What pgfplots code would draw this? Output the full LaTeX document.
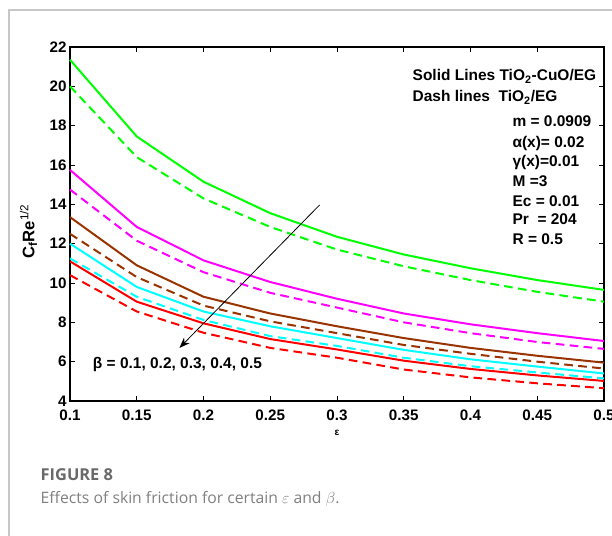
\documentclass[border=0pt]{standalone}
\usepackage{pgfplots}
\pgfplotsset{compat=1.18}
\usetikzlibrary{arrows.meta}
\usepackage{fontspec}
\setmainfont{Liberation Sans}
\newfontfamily\capfont{Open Sans}

\definecolor{cgreen}{RGB}{0,255,0}
\definecolor{cmag}{RGB}{255,0,255}
\definecolor{cbrown}{RGB}{153,51,0}
\definecolor{ccyan}{RGB}{0,255,255}
\definecolor{cred}{RGB}{255,0,0}
\definecolor{capgray}{RGB}{105,105,105}

\newcommand{\annfont}{\fontsize{11.6}{13}\selectfont\bfseries}

\begin{document}
\begin{tikzpicture}
\path[use as bounding box] (0,0) rectangle (459pt,402pt);
\draw[black!22, line width=0.8pt] (6.75pt,0) -- (6.75pt,394.5pt) -- (459pt,394.5pt);

\begin{axis}[
  at={(52.5pt,101.25pt)}, anchor=south west,
  scale only axis, width=400.5pt, height=265.5pt,
  xmin=0.1, xmax=0.5, ymin=4, ymax=22,
  xtick={0.1,0.15,0.2,0.25,0.3,0.35,0.4,0.45,0.5},
  ytick={4,6,8,10,12,14,16,18,20,22},
  scaled ticks=false,
  tick align=inside,
  major tick length=4pt,
  axis line style={line width=1.5pt},
  every tick/.style={black, line width=0.6pt},
  /pgf/number format/assume math mode=true,
  tick label style={font=\fontsize{11.4}{12}\selectfont\bfseries},
  yticklabel style={xshift=1pt},
  xticklabel style={yshift=-3pt},
  clip=false,
]

% solid lines: TiO2-CuO/EG
\addplot[cgreen, line width=1.5pt] coordinates {
(0.1,21.35)(0.15,17.45)(0.2,15.15)(0.25,13.55)(0.3,12.35)(0.35,11.45)(0.4,10.75)(0.45,10.15)(0.5,9.65)};
\addplot[cmag, line width=1.5pt] coordinates {
(0.1,15.75)(0.15,12.85)(0.2,11.15)(0.25,10.05)(0.3,9.2)(0.35,8.45)(0.4,7.9)(0.45,7.45)(0.5,7.05)};
\addplot[cbrown, line width=1.5pt] coordinates {
(0.1,13.35)(0.15,10.9)(0.2,9.3)(0.25,8.45)(0.3,7.8)(0.35,7.2)(0.4,6.7)(0.45,6.3)(0.5,5.95)};
\addplot[ccyan, line width=1.5pt] coordinates {
(0.1,12.0)(0.15,9.8)(0.2,8.55)(0.25,7.8)(0.3,7.2)(0.35,6.6)(0.4,6.12)(0.45,5.75)(0.5,5.4)};
\addplot[cred, line width=1.5pt] coordinates {
(0.1,11.1)(0.15,9.05)(0.2,7.95)(0.25,7.15)(0.3,6.62)(0.35,6.05)(0.4,5.63)(0.45,5.3)(0.5,5.02)};

% dashed lines: TiO2/EG
\addplot[cgreen, line width=1.5pt, dash pattern=on 6.5pt off 4pt] coordinates {
(0.1,20.0)(0.15,16.4)(0.2,14.3)(0.25,12.85)(0.3,11.7)(0.35,10.85)(0.4,10.15)(0.45,9.55)(0.5,9.05)};
\addplot[cmag, line width=1.5pt, dash pattern=on 6.5pt off 4pt] coordinates {
(0.1,14.75)(0.15,12.15)(0.2,10.55)(0.25,9.5)(0.3,8.75)(0.35,8.0)(0.4,7.45)(0.45,7.0)(0.5,6.65)};
\addplot[cbrown, line width=1.5pt, dash pattern=on 6.5pt off 4pt] coordinates {
(0.1,12.5)(0.15,10.3)(0.2,8.85)(0.25,8.05)(0.3,7.45)(0.35,6.85)(0.4,6.4)(0.45,6.0)(0.5,5.65)};
\addplot[ccyan, line width=1.5pt, dash pattern=on 6.5pt off 4pt] coordinates {
(0.1,11.25)(0.15,9.3)(0.2,8.12)(0.25,7.3)(0.3,6.8)(0.35,6.2)(0.4,5.77)(0.45,5.45)(0.5,5.15)};
\addplot[cred, line width=1.5pt, dash pattern=on 6.5pt off 4pt] coordinates {
(0.1,10.4)(0.15,8.55)(0.2,7.47)(0.25,6.7)(0.3,6.2)(0.35,5.6)(0.4,5.2)(0.45,4.9)(0.5,4.65)};

\draw[-{Stealth[length=8pt,width=6pt]}, line width=0.6pt]
  (axis cs:0.287,13.97) -- (axis cs:0.182,6.7);

\node[anchor=base west, font=\annfont] at (axis cs:0.1137,5.67) {β = 0.1, 0.2, 0.3, 0.4, 0.5};

\node[anchor=base west, font=\annfont] at (axis cs:0.3532,20.29) {Solid Lines TiO\textsubscript{2}-CuO/EG};
\node[anchor=base west, font=\annfont] at (axis cs:0.3532,19.22) {Dash lines\ \ TiO\textsubscript{2}/EG};
\node[anchor=base west, font=\annfont] at (axis cs:0.428,17.95) {m = 0.0909};
\node[anchor=base west, font=\annfont] at (axis cs:0.428,16.90) {α(x)= 0.02};
\node[anchor=base west, font=\annfont] at (axis cs:0.428,15.91) {γ(x)=0.01};
\node[anchor=base west, font=\annfont] at (axis cs:0.428,14.90) {M =3};
\node[anchor=base west, font=\annfont] at (axis cs:0.428,13.88) {Ec = 0.01};
\node[anchor=base west, font=\annfont] at (axis cs:0.428,12.95) {Pr\ \ = 204};
\node[anchor=base west, font=\annfont] at (axis cs:0.428,11.98) {R = 0.5};

\node[rotate=90, font=\fontsize{12.5}{14}\selectfont\bfseries] at (axis cs:0.069,12.62)
  {C\textsubscript{f}Re\textsuperscript{\mdseries 1/2}};
\node[font=\fontsize{7.5}{8}\selectfont\bfseries] at (axis cs:0.3,2.38) {ε};
\end{axis}

\node[anchor=base west, font=\capfont\fontsize{12.3}{14}\selectfont\bfseries, text=capgray] at (27pt,41.25pt) {FIGURE 8};
\node[anchor=base west, font=\capfont\fontsize{11.8}{14}\selectfont, text=capgray!85] at (27pt,24pt)
  {Effects of skin friction for certain $\varepsilon$ and $\beta$.};
\end{tikzpicture}
\end{document}
